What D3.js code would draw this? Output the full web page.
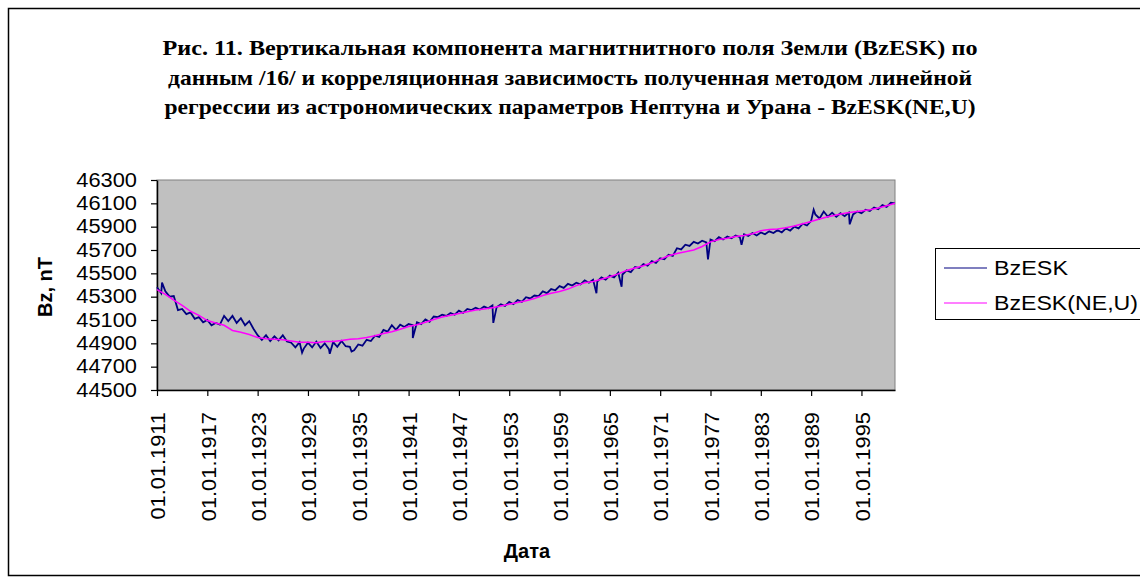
<!DOCTYPE html>
<html>
<head>
<meta charset="utf-8">
<script src="https://cdn.jsdelivr.net/npm/d3@7"></script>
<style>
	body { margin: 0; background: #fff; }
	text { font-family: Arial, "Liberation Sans", sans-serif; }
</style>
</head>
<body>
<div id="chart"></div>
<script>
var titleLines = [
	'Рис. 11. Вертикальная компонента магнитнитного поля Земли (BzESK) по',
	'данным /16/ и корреляционная зависимость полученная методом линейной',
	'регрессии из астрономических параметров Нептуна и Урана - BzESK(NE,U)'
];
var titleWidths = [815, 804, 811];

var tickYears = [1911, 1917, 1923, 1929, 1935, 1941, 1947, 1953, 1959, 1965, 1971, 1977, 1983, 1989, 1995];
var yTicks = [44500, 44700, 44900, 45100, 45300, 45500, 45700, 45900, 46100, 46300];

// BzESK, every half year from 01.01.1911
var bzESK = [
	45380, 45330, 45345, 45300, 45305, 45185, 45195, 45150, 45165, 45110,
	45125, 45080, 45100, 45055, 45075, 45060, 45135, 45090, 45135, 45075,
	45115, 45055, 45090, 45025, 44970, 44930, 44970, 44920, 44960, 44925,
	44970, 44915, 44905, 44865, 44910, 44855, 44905, 44865, 44915, 44860,
	44900, 44850, 44910, 44870, 44920, 44875, 44870, 44840, 44890, 44880,
	44930, 44920, 44965, 44955, 45015, 45000, 45055, 45015, 45060, 45040,
	45065, 45055, 45080, 45065, 45105, 45085, 45130, 45125, 45145, 45135,
	45160, 45145, 45180, 45160, 45195, 45185, 45205, 45190, 45215, 45200,
	45225, 45210, 45235, 45220, 45255, 45235, 45270, 45255, 45295, 45285,
	45310, 45305, 45345, 45330, 45365, 45355, 45390, 45375, 45410, 45395,
	45420, 45405, 45440, 45420, 45445, 45430, 45465, 45445, 45480, 45465,
	45505, 45490, 45525, 45510, 45555, 45545, 45580, 45565, 45605, 45590,
	45630, 45620, 45660, 45650, 45715, 45705, 45745, 45735, 45770, 45755,
	45780, 45765, 45790, 45775, 45810, 45790, 45815, 45800, 45825, 45810,
	45835, 45820, 45845, 45825, 45850, 45835, 45860, 45845, 45870, 45850,
	45885, 45865, 45900, 45885, 45925, 45910, 45950, 46005, 45970, 46030,
	45985, 46020, 45985, 46015, 45990, 46020, 46005, 46030, 46015, 46045,
	46035, 46065, 46050, 46085, 46070, 46105, 46100
];

// single-month outliers of BzESK [year, value]
var bzSpikes = [
	[1911.6, 45420], [1928.3, 44820], [1931.6, 44810], [1934.2, 44830],
	[1941.5, 44945], [1951.1, 45075], [1963.4, 45330], [1966.4, 45385],
	[1976.7, 45620], [1980.7, 45745], [1989.3, 46045], [1993.6, 45920]
];

// BzESK(NE,U), every year from 01.01.1911
var bzFit = [
	45360, 45320, 45270, 45225, 45175, 45140, 45095, 45075, 45055, 45010,
	44995, 44975, 44950, 44940, 44935, 44930, 44920, 44910, 44910, 44905,
	44915, 44915, 44925, 44935, 44940, 44950, 44965, 44985, 45000, 45020,
	45045, 45060, 45080, 45105, 45125, 45140, 45155, 45170, 45185, 45195,
	45205, 45220, 45235, 45250, 45265, 45285, 45310, 45330, 45345, 45365,
	45395, 45420, 45430, 45450, 45470, 45495, 45525, 45545, 45565, 45590,
	45620, 45650, 45670, 45685, 45700, 45730, 45770, 45790, 45800, 45815,
	45825, 45840, 45865, 45875, 45880, 45890, 45905, 45925, 45945, 45965,
	45985, 46000, 46015, 46025, 46035, 46045, 46060, 46080, 46100
];

var seriesNames = ['BzESK', 'BzESK(NE,U)'];
var seriesColors = ['#000080', '#FF00FF'];

var svg = d3.select('#chart').append('svg').attr('width', 1140).attr('height', 584);

// chart frame
svg.append('rect')
	.attr('x', 8.5).attr('y', 8.5)
	.attr('width', 1160).attr('height', 567)
	.attr('fill', '#fff')
	.attr('stroke', '#000')
	.attr('stroke-width', 1.5);

// title
titleLines.forEach(function(t, i) {
	svg.append('text')
		.attr('x', 570)
		.attr('y', 55 + i * 29.5)
		.attr('text-anchor', 'middle')
		.attr('textLength', titleWidths[i])
		.attr('lengthAdjust', 'spacingAndGlyphs')
		.style('font-family', '"Liberation Serif", "Times New Roman", serif')
		.style('font-weight', 'bold')
		.style('font-size', '22px')
		.text(t);
});

var xScale = d3.scaleLinear().domain([1911, 1999]).range([157, 895]);
var yScale = d3.scaleLinear().domain([44500, 46300]).range([390, 180]);

// plot area
svg.append('rect')
	.attr('x', xScale(1911)).attr('y', yScale(46300))
	.attr('width', xScale(1999) - xScale(1911))
	.attr('height', yScale(44500) - yScale(46300))
	.attr('fill', '#C0C0C0')
	.attr('stroke', '#808080')
	.attr('stroke-width', 1);

var yAxis = d3.axisLeft(yScale).tickValues(yTicks).tickSize(6).tickSizeOuter(0)
	.tickFormat(d3.format('d'));
var yAxisG = svg.append('g')
	.attr('transform', 'translate(157,0)')
	.call(yAxis);
yAxisG.selectAll('text')
	.attr('x', -20 / 1.12)
	.attr('transform', 'scale(1.12,1)')
	.style('font-size', '19.5px')
	.attr('fill', '#000');

var xAxis = d3.axisBottom(xScale).tickValues(tickYears).tickSize(6).tickSizeOuter(0)
	.tickFormat(function(d) { return '01.01.' + d; });
var xAxisG = svg.append('g')
	.attr('transform', 'translate(0,390)')
	.call(xAxis);
xAxisG.selectAll('text')
	.attr('transform', 'rotate(-90) scale(1.12,1)')
	.attr('x', -22 / 1.12)
	.attr('y', 0)
	.attr('dy', '0.4em')
	.attr('text-anchor', 'end')
	.style('font-size', '19.5px')
	.attr('fill', '#000');

[xAxisG, yAxisG].forEach(function(g) {
	g.select('.domain').attr('stroke', '#000').attr('stroke-width', 1.5);
	g.selectAll('.tick line').attr('stroke', '#000').attr('stroke-width', 1.2);
});

// axis titles
svg.append('text')
	.attr('transform', 'translate(52,287) rotate(-90)')
	.attr('text-anchor', 'middle')
	.style('font-weight', 'bold')
	.style('font-size', '20px')
	.text('Bz, nT');

svg.append('text')
	.attr('x', 527).attr('y', 558)
	.attr('text-anchor', 'middle')
	.style('font-weight', 'bold')
	.style('font-size', '20px')
	.text('Дата');

// series
var bzPoints = bzESK.map(function(v, i) { return [1911 + i / 2, v]; })
	.concat(bzSpikes)
	.sort(function(a, b) { return a[0] - b[0]; });
var fitPoints = bzFit.map(function(v, i) { return [1911 + i, v]; });

var line = d3.line()
	.x(function(d) { return xScale(d[0]); })
	.y(function(d) { return yScale(d[1]); });

svg.append('path')
	.attr('d', line(bzPoints))
	.attr('fill', 'none')
	.attr('stroke', seriesColors[0])
	.attr('stroke-width', 1.8);

svg.append('path')
	.attr('d', line(fitPoints))
	.attr('fill', 'none')
	.attr('stroke', seriesColors[1])
	.attr('stroke-width', 1.5);

// legend
var legend = svg.append('g').attr('transform', 'translate(935,248)');
legend.append('rect')
	.attr('x', 0.5).attr('y', 0.5)
	.attr('width', 240).attr('height', 71)
	.attr('fill', '#fff')
	.attr('stroke', '#000');

seriesNames.forEach(function(name, i) {
	var ly = 20 + i * 35;
	legend.append('line')
		.attr('x1', 9).attr('x2', 52)
		.attr('y1', ly).attr('y2', ly)
		.attr('stroke', seriesColors[i])
		.attr('stroke-width', 1.2);
	legend.append('text')
		.attr('x', 59).attr('y', ly)
		.attr('dy', '0.36em')
		.attr('textLength', i === 0 ? 74 : 144)
		.attr('lengthAdjust', 'spacingAndGlyphs')
		.style('font-size', '20px')
		.text(name);
});
</script>
</body>
</html>
